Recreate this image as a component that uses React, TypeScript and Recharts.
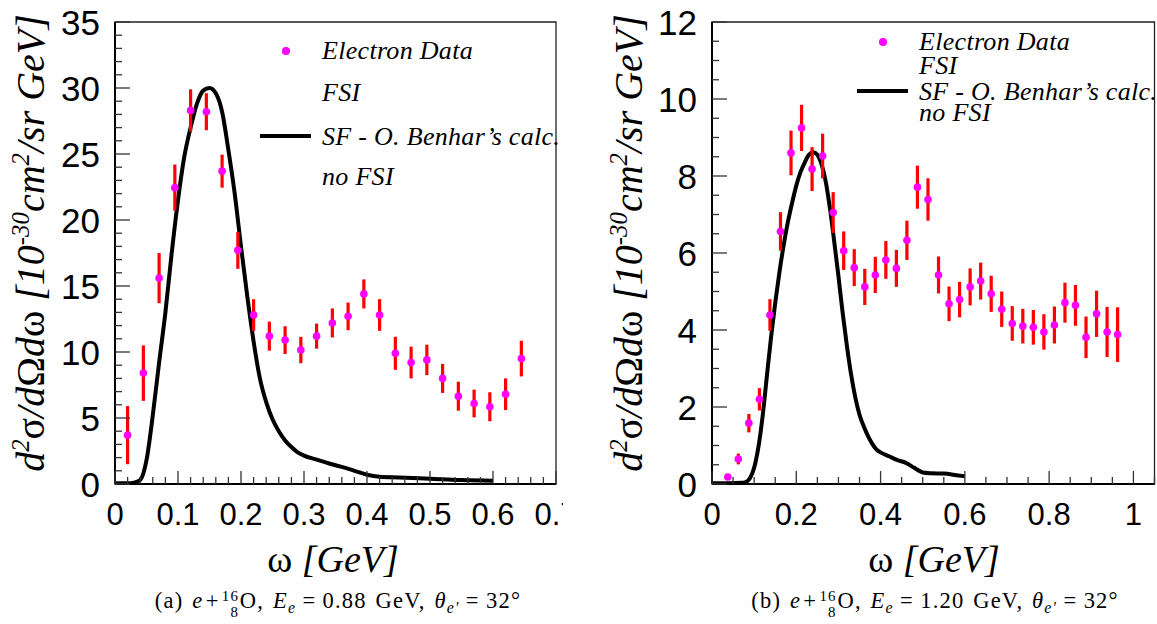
import React from "react"
import { ComposedChart, Line, Scatter, ErrorBar, XAxis, YAxis, ReferenceArea } from "recharts"

// panel (a): e + 16O, Ee = 0.88 GeV
const omegaA = [0.02, 0.045, 0.07, 0.095, 0.12, 0.145, 0.17, 0.195, 0.22, 0.245, 0.27, 0.295, 0.32, 0.345, 0.37, 0.395, 0.42, 0.445, 0.47, 0.495, 0.52, 0.545, 0.57, 0.595, 0.62, 0.645]
const sigmaA = [3.7, 8.4, 15.6, 22.45, 28.3, 28.2, 23.7, 17.7, 12.8, 11.2, 10.9, 10.15, 11.2, 12.2, 12.7, 14.4, 12.8, 9.9, 9.2, 9.4, 8.0, 6.65, 6.1, 5.85, 6.8, 9.5]
const errA = [2.2, 2.1, 1.9, 1.75, 1.6, 1.4, 1.25, 1.4, 1.2, 1.1, 1.05, 1.0, 0.95, 1.1, 1.05, 1.1, 1.2, 1.25, 1.2, 1.15, 1.1, 1.1, 1.05, 1.1, 1.2, 1.35]
const modelOmegaA = [0, 0.01, 0.02, 0.03, 0.04, 0.05, 0.06, 0.07, 0.08, 0.09, 0.1, 0.11, 0.12, 0.13, 0.14, 0.15, 0.16, 0.17, 0.18, 0.19, 0.2, 0.21, 0.22, 0.23, 0.24, 0.25, 0.26, 0.27, 0.28, 0.29, 0.3, 0.32, 0.34, 0.36, 0.38, 0.4, 0.42, 0.45, 0.5, 0.55, 0.6]
const modelA = [0.05, 0.05, 0.05, 0.1, 0.3, 1.8, 5.2, 9.2, 13.0, 17.5, 21.5, 24.8, 27.0, 28.8, 29.8, 30.0, 29.6, 28.2, 25.3, 22.0, 18.0, 14.2, 10.8, 8.0, 6.2, 4.9, 4.0, 3.3, 2.8, 2.4, 2.15, 1.85, 1.55, 1.3, 1.0, 0.7, 0.55, 0.5, 0.4, 0.3, 0.25]
const xMajorA = [0, 0.1, 0.2, 0.3, 0.4, 0.5, 0.6, 0.7]
const xLabelA = ["0", "0.1", "0.2", "0.3", "0.4", "0.5", "0.6", "0.7"]
const yMajorA = [0, 5, 10, 15, 20, 25, 30, 35]
const yLabelA = ["0", "5", "10", "15", "20", "25", "30", "35"]

// panel (b): e + 16O, Ee = 1.20 GeV
const omegaB = [0.0375, 0.0625, 0.0875, 0.1125, 0.1375, 0.1625, 0.1875, 0.2125, 0.2375, 0.2625, 0.2875, 0.3125, 0.3375, 0.3625, 0.3875, 0.4125, 0.4375, 0.4625, 0.4875, 0.5125, 0.5375, 0.5625, 0.5875, 0.6125, 0.6375, 0.6625, 0.6875, 0.7125, 0.7375, 0.7625, 0.7875, 0.8125, 0.8375, 0.8625, 0.8875, 0.9125, 0.9375, 0.9625]
const sigmaB = [0.18, 0.65, 1.58, 2.2, 4.39, 6.56, 8.6, 9.25, 8.18, 8.52, 7.05, 6.06, 5.62, 5.12, 5.43, 5.82, 5.6, 6.33, 7.71, 7.39, 5.43, 4.68, 4.79, 5.12, 5.27, 4.94, 4.54, 4.17, 4.1, 4.07, 3.95, 4.13, 4.71, 4.64, 3.81, 4.42, 3.95, 3.88]
const errB = [0.05, 0.14, 0.24, 0.29, 0.41, 0.5, 0.58, 0.6, 0.57, 0.58, 0.53, 0.5, 0.48, 0.47, 0.47, 0.49, 0.48, 0.51, 0.56, 0.55, 0.48, 0.45, 0.46, 0.48, 0.48, 0.47, 0.46, 0.45, 0.45, 0.45, 0.46, 0.48, 0.52, 0.53, 0.54, 0.6, 0.65, 0.71]
const modelOmegaB = [0, 0.04, 0.07, 0.08, 0.09, 0.1, 0.11, 0.12, 0.13, 0.14, 0.15, 0.16, 0.17, 0.18, 0.19, 0.2, 0.21, 0.22, 0.23, 0.24, 0.25, 0.26, 0.27, 0.28, 0.29, 0.3, 0.31, 0.32, 0.33, 0.34, 0.35, 0.36, 0.37, 0.38, 0.39, 0.4, 0.42, 0.44, 0.46, 0.48, 0.5, 0.52, 0.55, 0.58, 0.6]
const modelB = [0.02, 0.02, 0.03, 0.05, 0.15, 0.42, 0.95, 1.75, 2.78, 3.8, 4.7, 5.5, 6.2, 6.8, 7.3, 7.75, 8.1, 8.35, 8.55, 8.62, 8.55, 8.3, 7.85, 7.15, 6.3, 5.4, 4.45, 3.6, 2.85, 2.25, 1.8, 1.5, 1.25, 1.05, 0.9, 0.82, 0.72, 0.62, 0.55, 0.42, 0.3, 0.28, 0.27, 0.23, 0.2]
const xMajorB = [0, 0.2, 0.4, 0.6, 0.8, 1]
const xLabelB = ["0", "0.2", "0.4", "0.6", "0.8", "1"]
const yMajorB = [0, 2, 4, 6, 8, 10, 12]
const yLabelB = ["0", "2", "4", "6", "8", "10", "12"]

const sans = '"Liberation Sans", Arial, Helvetica, sans-serif'
const serif = '"Liberation Serif", "Times New Roman", serif'

function stepTicks(max: number, step: number) {
  const n = Math.round(max / step)
  return Array.from({ length: n + 1 }, (_, i) => +(i * step).toFixed(4))
}

function majorIndex(v: number, majors: number[]) {
  return majors.findIndex((m) => Math.abs(m - v) < 1e-6)
}

function makeXTick(majors: number[], labels: string[]) {
  return (props: any) => {
    const { x, y, payload } = props
    const idx = majorIndex(payload.value, majors)
    return (
      <g>
        <line x1={x} x2={x} y1={y} y2={y - (idx >= 0 ? 13 : 7)} stroke="#333" strokeWidth={1.3} />
        {idx >= 0 && (
          <text x={x} y={y + 41} textAnchor="middle" fontSize={31} fontFamily={sans} fill="#000">
            {labels[idx]}
          </text>
        )}
      </g>
    )
  }
}

function makeYTick(majors: number[], labels: string[]) {
  return (props: any) => {
    const { x, y, payload } = props
    const idx = majorIndex(payload.value, majors)
    return (
      <g>
        <line x1={x} x2={x + (idx >= 0 ? 15 : 7)} y1={y} y2={y} stroke="#333" strokeWidth={1.3} />
        {idx >= 0 && (
          <text x={x - 15} y={y} dy="0.36em" textAnchor="end" fontSize={35} fontFamily={sans} fill="#000">
            {labels[idx]}
          </text>
        )}
      </g>
    )
  }
}

const dot = (p: any) => <circle cx={p.cx} cy={p.cy} r={3.8} fill="#ff00ff" />

interface PanelProps {
  omega: number[]
  sigma: number[]
  err: number[]
  modelOmega: number[]
  model: number[]
  xMax: number
  yMax: number
  xStep: number
  yStep: number
  xMajor: number[]
  xLabel: string[]
  yMajor: number[]
  yLabel: string[]
  plotLeft: number
  plotRight: number
  width: number
}

function Panel(p: PanelProps) {
  const data = p.omega.map((x, i) => ({ x, y: p.sigma[i], err: p.err[i] }))
  const curve = p.modelOmega.map((x, i) => ({ x, y: p.model[i] }))
  const height = 560
  return (
    <ComposedChart
      width={p.width}
      height={height}
      margin={{ top: 22, left: 0, right: p.width - p.plotRight, bottom: 0 }}
    >
      <XAxis
        type="number"
        dataKey="x"
        domain={[0, p.xMax]}
        allowDataOverflow
        ticks={stepTicks(p.xMax, p.xStep)}
        interval={0}
        height={height - 484}
        tickSize={0}
        tickMargin={0}
        tickLine={false}
        axisLine={{ stroke: "#000", strokeWidth: 2 }}
        tick={makeXTick(p.xMajor, p.xLabel)}
      />
      <YAxis
        type="number"
        dataKey="y"
        domain={[0, p.yMax]}
        allowDataOverflow
        ticks={stepTicks(p.yMax, p.yStep)}
        interval={0}
        width={p.plotLeft}
        tickSize={0}
        tickMargin={0}
        tickLine={false}
        axisLine={{ stroke: "#000", strokeWidth: 2 }}
        tick={makeYTick(p.yMajor, p.yLabel)}
      />
      <ReferenceArea x1={0} x2={p.xMax} y1={0} y2={p.yMax} fill="none" stroke="#222" strokeWidth={1.3} ifOverflow="visible" />
      <Line
        data={curve}
        dataKey="y"
        type="monotone"
        stroke="#000"
        strokeWidth={4}
        dot={false}
        isAnimationActive={false}
      />
      <Scatter data={data} dataKey="y" shape={dot} isAnimationActive={false}>
        <ErrorBar dataKey="err" direction="y" width={0} stroke="#ff0000" strokeWidth={3.2} />
      </Scatter>
    </ComposedChart>
  )
}

const sup = { fontSize: "0.62em", verticalAlign: "0.6em", lineHeight: 0 } as const
const sub = { fontSize: "0.7em", verticalAlign: "-0.3em", lineHeight: 0 } as const
const up = { fontStyle: "normal" } as const
const rel = { margin: "0 0.28em" } as const

function YTitle({ cx }: { cx: number }) {
  return (
    <div
      style={{
        position: "absolute",
        left: cx,
        top: 243,
        transform: "translate(-50%, -50%) rotate(-90deg)",
        whiteSpace: "nowrap",
        fontFamily: serif,
        fontStyle: "italic",
        fontSize: 40,
        lineHeight: 1,
      }}
    >
      d<span style={sup}>2</span>
      <span style={up}>σ</span>/d<span style={up}>Ω</span>d<span style={up}>ω</span> [10
      <span style={sup}>-30</span>cm<span style={sup}>2</span>/sr GeV]
    </div>
  )
}

function XTitle({ cx }: { cx: number }) {
  return (
    <div
      style={{
        position: "absolute",
        left: cx,
        top: 540,
        transform: "translateX(-50%)",
        whiteSpace: "nowrap",
        fontFamily: serif,
        fontStyle: "italic",
        fontSize: 38,
        lineHeight: 1,
      }}
    >
      <span style={up}>ω</span> [GeV]
    </div>
  )
}

function Caption({ cx, tag, energy }: { cx: number; tag: string; energy: string }) {
  return (
    <div
      style={{
        position: "absolute",
        left: cx,
        top: 589,
        transform: "translateX(-50%)",
        whiteSpace: "nowrap",
        fontFamily: serif,
        fontSize: 22.5,
        letterSpacing: 1.2,
        wordSpacing: 2,
        lineHeight: 1,
      }}
    >
      ({tag}) <i>e</i>
      <span style={{ margin: "0 0.1em" }}>+</span>
      <span
        style={{
          display: "inline-flex",
          flexDirection: "column",
          fontSize: "0.66em",
          lineHeight: 1.05,
          verticalAlign: "0.5em",
          textAlign: "right",
          marginRight: "0.05em",
        }}
      >
        <span>16</span>
        <span>8</span>
      </span>
      O, <i>E</i>
      <i style={sub}>e</i>
      <span style={rel}>=</span>
      {energy} GeV, <i>θ</i>
      <i style={sub}>e′</i>
      <span style={rel}>=</span>32°
    </div>
  )
}

function LegendBox({ x, dotY, lineY, lines }: { x: number; dotY: number; lineY: number; lines: number[] }) {
  const texts = ["Electron Data", "FSI", "SF - O. Benhar’s calc.", "no FSI"]
  return (
    <>
      <div
        style={{
          position: "absolute",
          left: x - 40,
          top: dotY - 3.8,
          width: 7.6,
          height: 7.6,
          borderRadius: "50%",
          background: "#ff00ff",
        }}
      />
      <div style={{ position: "absolute", left: x - 62, top: lineY - 2, width: 51, height: 4, background: "#000" }} />
      {texts.map((t, i) => (
        <div
          key={t}
          style={{
            position: "absolute",
            left: x,
            top: lines[i] - 17.9,
            whiteSpace: "nowrap",
            fontFamily: serif,
            fontStyle: "italic",
            fontSize: 26,
            letterSpacing: 0.3,
            lineHeight: 0.7,
          }}
        >
          {t}
        </div>
      ))}
    </>
  )
}

export default function App() {
  return (
    <div style={{ position: "absolute", left: 0, top: 0, width: 1157, height: 624, background: "#fff", overflow: "hidden" }}>
      <div style={{ position: "absolute", left: 0, top: 0, width: 563, height: 560, overflow: "hidden" }}>
        <Panel
          omega={omegaA}
          sigma={sigmaA}
          err={errA}
          modelOmega={modelOmegaA}
          model={modelA}
          xMax={0.7}
          yMax={35}
          xStep={0.02}
          yStep={1}
          xMajor={xMajorA}
          xLabel={xLabelA}
          yMajor={yMajorA}
          yLabel={yLabelA}
          plotLeft={115}
          plotRight={556}
          width={600}
        />
      </div>
      <div style={{ position: "absolute", left: 580, top: 0, width: 577, height: 560, overflow: "hidden" }}>
        <Panel
          omega={omegaB}
          sigma={sigmaB}
          err={errB}
          modelOmega={modelOmegaB}
          model={modelB}
          xMax={1.05}
          yMax={12}
          xStep={0.05}
          yStep={0.5}
          xMajor={xMajorB}
          xLabel={xLabelB}
          yMajor={yMajorB}
          yLabel={yLabelB}
          plotLeft={132}
          plotRight={574.5}
          width={600}
        />
      </div>
      <YTitle cx={31} />
      <YTitle cx={629} />
      <XTitle cx={333} />
      <XTitle cx={934} />
      <LegendBox x={322} dotY={51} lineY={135.7} lines={[60, 102, 145.7, 186]} />
      <LegendBox x={919} dotY={42} lineY={91} lines={[51, 75, 101, 122]} />
      <Caption cx={338} tag="a" energy="0.88" />
      <Caption cx={935} tag="b" energy="1.20" />
    </div>
  )
}
